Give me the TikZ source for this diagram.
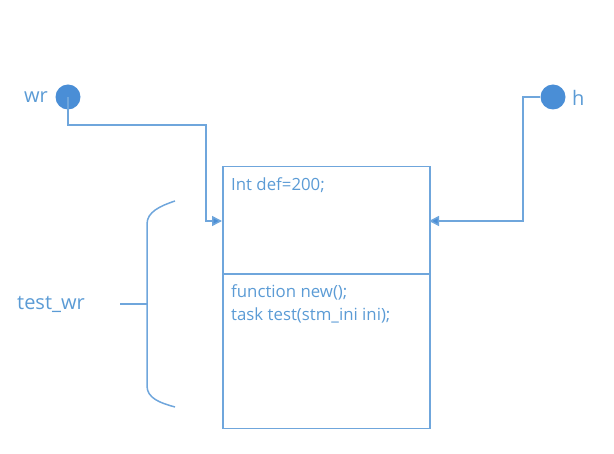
\documentclass[tikz,border=0pt]{standalone}
\usepackage{fontspec}
\setmainfont{Open Sans}
\usetikzlibrary{arrows.meta}
\definecolor{ln}{HTML}{6FA6DC}
\definecolor{dk}{HTML}{4A8ED6}
\definecolor{tx}{HTML}{5B9BD5}
\begin{document}
\begin{tikzpicture}[x=1pt,y=-1pt,
  conn/.style={draw=ln,line width=1.5pt},
  arr/.style={conn,-{Triangle[length=10pt,width=10pt,fill=dk]}},
  dot/.style={circle,fill=dk,minimum size=25pt,inner sep=0pt},
  lbl/.style={text=tx,font=\fontsize{20}{23}\selectfont,inner sep=0pt},
  code/.style={text=tx,font=\fontsize{16.8}{20}\selectfont,anchor=base west,inner sep=0pt}]
\useasboundingbox (0,0) rectangle (614,454);
\node[dot] (wr) at (68,97) {};
\node[dot] (h) at (553,97) {};
\node[lbl,anchor=east] (wrl) at (48,97) {wr};
\node[lbl,anchor=west] (hl) at (572,98) {h};
\node[draw=ln,line width=1.5pt,minimum width=207pt,minimum height=262pt,anchor=north west,inner sep=0pt] (box) at (222,166) {};
\coordinate (divL) at (222,274);
\coordinate (divR) at (429,274);
\draw[conn] (divL) -- (divR);
\coordinate (boxinL) at (222,221);
\coordinate (boxinR) at (429,221);
\draw[arr] (wr.center) |- (206,125) |- (boxinL);
\draw[arr] (h.west) -| (523,97) |- (boxinR);
\node[code] (t1) at (231,191) {Int def=200;};
\node[code] (t2) at (231,298) {function new();};
\node[code] (t3) at (231,321) {task test(stm\_ini ini);};
\coordinate (bt) at (175,201);
\coordinate (bb) at (175,407);
\coordinate (bm) at (147,304);
\coordinate (tick) at (120,304);
\draw[conn] (bt) .. controls (160,206) and (147,212) .. (147,224) -- (147,386) .. controls (147,398) and (160,403) .. (bb);
\draw[conn] (tick) -- (bm);
\node[lbl] (tw) at (51,304) {test\_wr};
\end{tikzpicture}
\end{document}
